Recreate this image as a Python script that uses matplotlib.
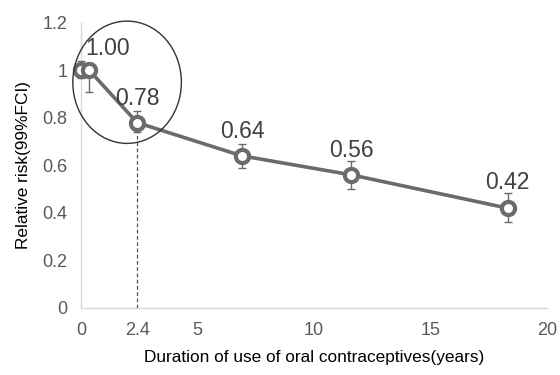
import matplotlib
matplotlib.use("Agg")
import matplotlib.pyplot as plt
from matplotlib.patches import Ellipse

plt.rcParams['font.family'] = ['Liberation Sans', 'DejaVu Sans']

years = [0.0, 0.35, 2.4, 6.9, 11.6, 18.3]
rr = [1.00, 1.00, 0.78, 0.64, 0.56, 0.42]
err_low = [0.03, 0.09, 0.04, 0.05, 0.06, 0.06]
err_high = [0.04, 0.03, 0.05, 0.05, 0.06, 0.065]
labels = ["", "1.00", "0.78", "0.64", "0.56", "0.42"]
xticks = [0, 2.4, 5, 10, 15, 20]
xticklabels = ["0", "2.4", "5", "10", "15", "20"]
yticks = [0, 0.2, 0.4, 0.6, 0.8, 1.0, 1.2]
yticklabels = ["0", "0.2", "0.4", "0.6", "0.8", "1", "1.2"]

fig = plt.figure(figsize=(5.6, 3.75), dpi=100)
ax = fig.add_axes([0.145, 0.179, 0.832, 0.760])

gray = '#6b6b6b'
ax.errorbar(years, rr, yerr=[err_low, err_high], fmt='none', ecolor=gray,
            elinewidth=1.0, capsize=3, capthick=1.0, zorder=2, clip_on=False)
ax.plot(years, rr, color=gray, lw=2.6, marker='o', markersize=9.5,
        markerfacecolor='white', markeredgecolor=gray, markeredgewidth=3.0,
        zorder=3, clip_on=False)

offsets = [0, 0.045, 0.055, 0.055, 0.055, 0.06]
for x, y, t, o in zip(years, rr, labels, offsets):
    if t:
        ax.text(x + (0.8 if t == "1.00" else 0), y + o, t, ha='center', va='bottom',
                fontsize=16.5, color='#404040')

ax.plot([2.4, 2.4], [0, 0.78], ls=(0, (3, 2)), color='#555555', lw=0.9, zorder=1)

ell = Ellipse((1.97, 0.95), 4.66, 0.515, fill=False, edgecolor='#333333', lw=1.0,
              zorder=4, clip_on=False)
ax.add_patch(ell)

ax.set_xlim(0, 20)
ax.set_ylim(0, 1.2)
ax.set_xticks(xticks)
ax.set_xticklabels(xticklabels)
ax.set_yticks(yticks)
ax.set_yticklabels(yticklabels)
ax.tick_params(length=0, labelsize=13, colors='#595959', pad=10)
for s in ['top', 'right']:
    ax.spines[s].set_visible(False)
for s in ['left', 'bottom']:
    ax.spines[s].set_color('#d9d9d9')
    ax.spines[s].set_linewidth(1.0)
    ax.spines[s].set_zorder(0)

ax.set_xlabel("Duration of use of oral contraceptives(years)", fontsize=12.4, color='black', labelpad=8)
ax.set_ylabel("Relative risk(99%FCI)", fontsize=12.4, color='black', labelpad=8)

fig.savefig("out.png", dpi=100)
